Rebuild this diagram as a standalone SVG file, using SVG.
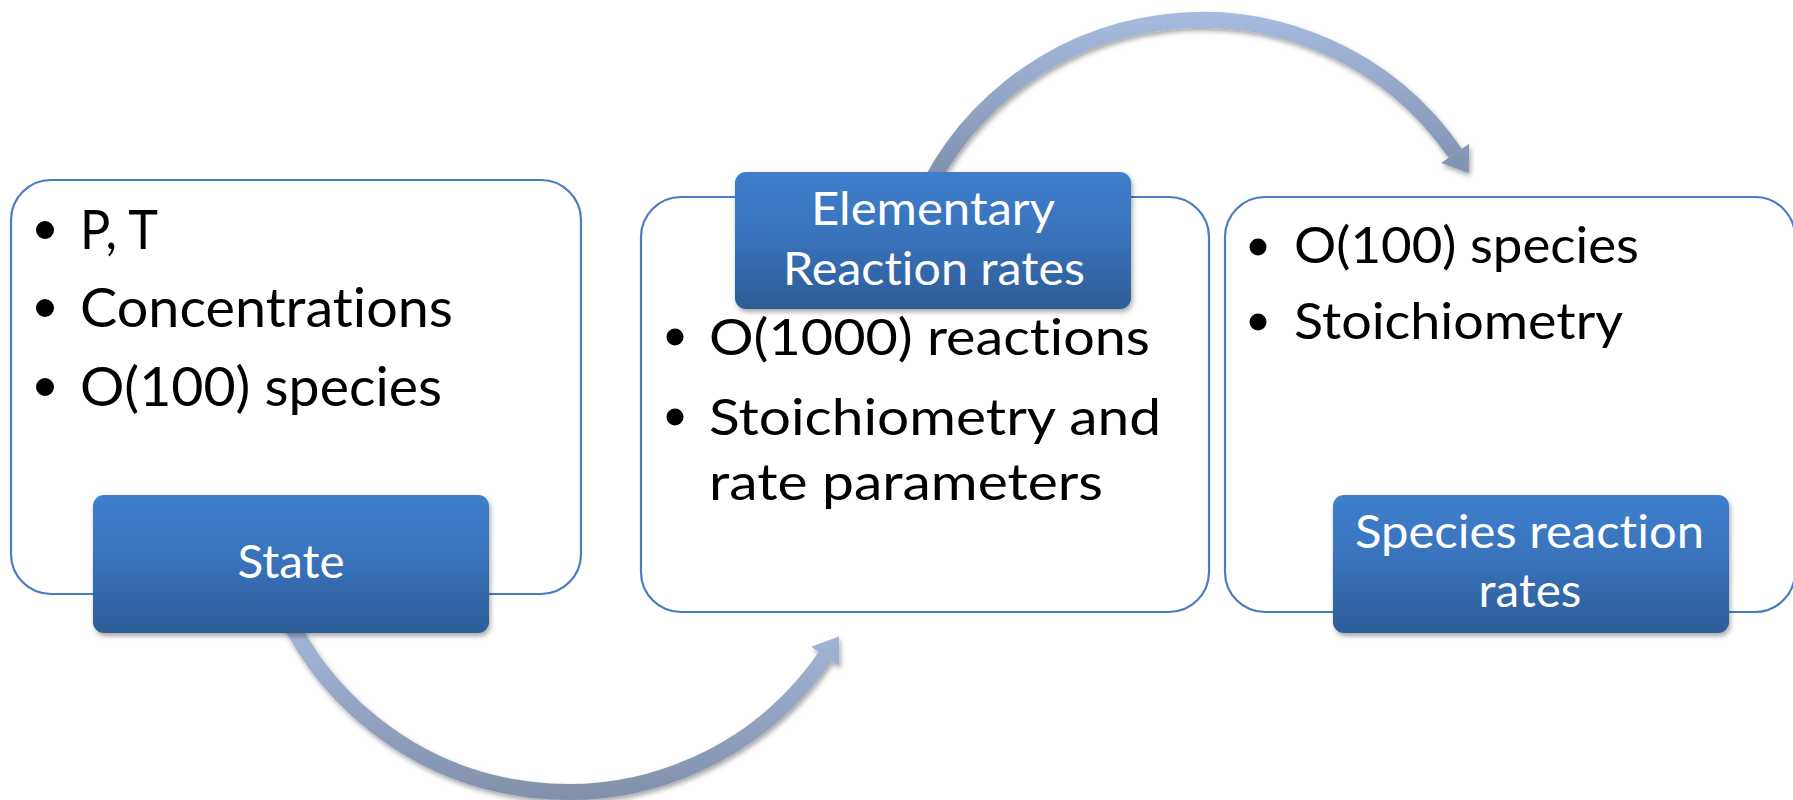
<svg xmlns="http://www.w3.org/2000/svg" width="1793" height="800" viewBox="0 0 1793 800">
  <defs>
    <linearGradient id="labelFill" x1="0" y1="0" x2="0" y2="1">
      <stop offset="0" stop-color="#3f7fcd"/>
      <stop offset="0.5" stop-color="#3871b9"/>
      <stop offset="1" stop-color="#2d5c97"/>
    </linearGradient>
    <linearGradient id="arcFillLow" gradientUnits="userSpaceOnUse" x1="0" y1="600" x2="0" y2="800">
      <stop offset="0" stop-color="#a9bcdf"/>
      <stop offset="1" stop-color="#8290aa"/>
    </linearGradient>
    <linearGradient id="arcFillHigh" gradientUnits="userSpaceOnUse" x1="0" y1="12" x2="0" y2="180">
      <stop offset="0" stop-color="#a7bbe0"/>
      <stop offset="1" stop-color="#8090ae"/>
    </linearGradient>
    <filter id="softShadow" x="-10%" y="-10%" width="120%" height="130%">
      <feDropShadow dx="1.5" dy="3" stdDeviation="2.5" flood-color="#000" flood-opacity="0.35"/>
    </filter>
    <style>
      .panel { fill: #ffffff; stroke: #4a7dbf; stroke-width: 2.2; }
      .label { fill: url(#labelFill); filter: url(#softShadow); }
      text { font-variant-ligatures: none; font-feature-settings: "liga" 0; }
      .body { font-family: Lato, "Liberation Sans", sans-serif; fill: #000000; }
      .caption { font-family: Lato, "Liberation Sans", sans-serif; fill: #ffffff; font-size: 45.5px; text-anchor: middle; }
      .dot { fill: #000000; }
      .arc { fill: none; stroke-width: 16; }
    </style>
  </defs>

  <rect width="1793" height="800" fill="#ffffff"/>

  <!-- curved arrows between the panels -->
  <g id="connectors">
    <g filter="url(#softShadow)">
      <path class="arc" stroke="url(#arcFillLow)" d="M 274.8 586.7 A 312 312 0 0 0 825.4 656.3"/>
      <polygon fill="url(#arcFillLow)" points="839,636.5 839.4,665.9 811.4,646.7"/>
    </g>
    <g filter="url(#softShadow)">
      <path class="arc" stroke="url(#arcFillHigh)" d="M 913.5 222 A 307 307 0 0 1 1455.2 153.3"/>
      <polygon fill="url(#arcFillHigh)" points="1468.8,173.1 1469.2,143.7 1441.2,162.9"/>
    </g>
  </g>

  <!-- state panel -->
  <g id="state">
    <rect class="panel" x="11" y="180" width="570" height="414" rx="40" ry="40"/>
    <circle class="dot" cx="45" cy="230" r="9"/>
    <text class="body" x="80" y="249" font-size="53.5" textLength="78" lengthAdjust="spacingAndGlyphs">P, T</text>
    <circle class="dot" cx="45" cy="308" r="9"/>
    <text class="body" x="80" y="327" font-size="53.5" textLength="373" lengthAdjust="spacingAndGlyphs">Concentrations</text>
    <circle class="dot" cx="45" cy="387" r="9"/>
    <text class="body" x="80" y="406" font-size="53.5" textLength="362" lengthAdjust="spacingAndGlyphs">O(100) species</text>
    <rect class="label" x="93" y="495" width="396" height="138" rx="11" ry="11"/>
    <text class="caption" x="291" y="578" textLength="107" lengthAdjust="spacingAndGlyphs">State</text>
  </g>

  <!-- elementary reaction rates panel -->
  <g id="elementary-rates">
    <rect class="panel" x="641" y="197" width="568" height="415" rx="40" ry="40"/>
    <circle class="dot" cx="675" cy="337" r="8.5"/>
    <text class="body" x="709" y="355" font-size="51" textLength="441" lengthAdjust="spacingAndGlyphs">O(1000) reactions</text>
    <circle class="dot" cx="675" cy="417" r="8.5"/>
    <text class="body" x="709" y="435" font-size="51" textLength="452" lengthAdjust="spacingAndGlyphs">Stoichiometry and</text>
    <text class="body" x="709" y="500" font-size="51" textLength="394" lengthAdjust="spacingAndGlyphs">rate parameters</text>
    <rect class="label" x="735" y="172" width="396" height="137" rx="11" ry="11"/>
    <text class="caption" x="933" y="225" textLength="244" lengthAdjust="spacingAndGlyphs">Elementary</text>
    <text class="caption" x="934" y="285" textLength="302" lengthAdjust="spacingAndGlyphs">Reaction rates</text>
  </g>

  <!-- species reaction rates panel -->
  <g id="species-rates">
    <rect class="panel" x="1225" y="197" width="570" height="415" rx="40" ry="40"/>
    <circle class="dot" cx="1258" cy="247" r="8.5"/>
    <text class="body" x="1294" y="263" font-size="51" textLength="345" lengthAdjust="spacingAndGlyphs">O(100) species</text>
    <circle class="dot" cx="1258" cy="322" r="8.5"/>
    <text class="body" x="1294" y="339" font-size="51" textLength="329" lengthAdjust="spacingAndGlyphs">Stoichiometry</text>
    <rect class="label" x="1333" y="495" width="396" height="138" rx="11" ry="11"/>
    <text class="caption" x="1529.5" y="548" textLength="349" lengthAdjust="spacingAndGlyphs">Species reaction</text>
    <text class="caption" x="1530" y="607" textLength="103" lengthAdjust="spacingAndGlyphs">rates</text>
  </g>
</svg>
